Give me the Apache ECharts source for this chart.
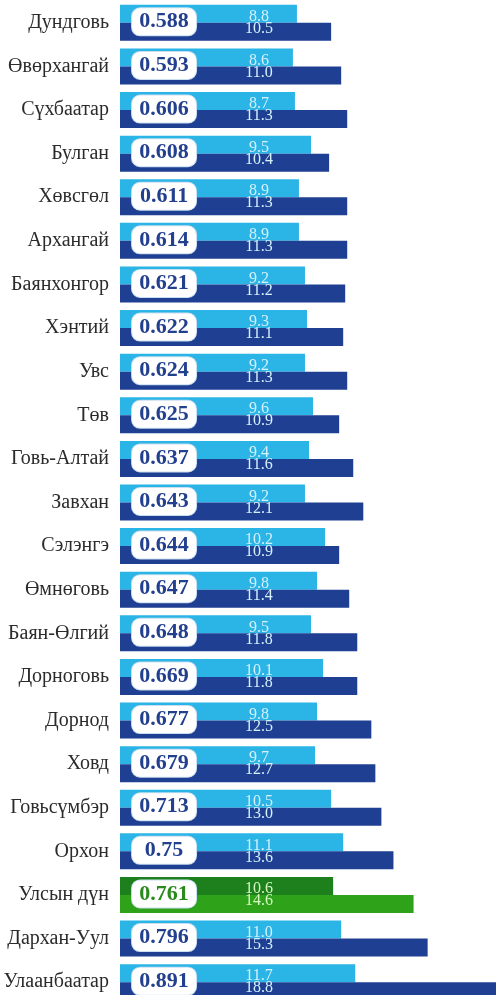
<!DOCTYPE html>
<html>
<head>
    <meta charset="utf-8"/>
    <script src="https://cdn.jsdelivr.net/npm/echarts@6/dist/echarts.min.js"></script>
    <style>
        html, body { margin: 0; padding: 0; background: #fff; }
    </style>
</head>
<body>
<div id="main" style="width: 496px;height:995px;"></div>
<script type="text/javascript">
    // aimags
    var categories = ['Дундговь', 'Өвөрхангай', 'Сүхбаатар', 'Булган', 'Хөвсгөл', 'Архангай', 'Баянхонгор',
        'Хэнтий', 'Увс', 'Төв', 'Говь-Алтай', 'Завхан', 'Сэлэнгэ', 'Өмнөговь', 'Баян-Өлгий', 'Дорноговь',
        'Дорнод', 'Ховд', 'Говьсүмбэр', 'Орхон', 'Улсын дүн', 'Дархан-Уул', 'Улаанбаатар'];
    // index in the white box
    var indexValues = [0.588, 0.593, 0.606, 0.608, 0.611, 0.614, 0.621, 0.622, 0.624, 0.625, 0.637, 0.643,
        0.644, 0.647, 0.648, 0.669, 0.677, 0.679, 0.713, 0.75, 0.761, 0.796, 0.891];
    // upper (light) bar
    var topValues = [8.8, 8.6, 8.7, 9.5, 8.9, 8.9, 9.2, 9.3, 9.2, 9.6, 9.4, 9.2, 10.2, 9.8, 9.5, 10.1,
        9.8, 9.7, 10.5, 11.1, 10.6, 11.0, 11.7];
    // lower (dark) bar
    var bottomValues = [10.5, 11.0, 11.3, 10.4, 11.3, 11.3, 11.2, 11.1, 11.3, 10.9, 11.6, 12.1, 10.9, 11.4,
        11.8, 11.8, 12.5, 12.7, 13.0, 13.6, 14.6, 15.3, 18.8];
    var nationalIndex = 20;

    var myChart = echarts.init(document.getElementById('main'));

    function barData(values, greenColor) {
        return values.map(function (v, i) {
            return i === nationalIndex ? {value: v, itemStyle: {color: greenColor}, label: {color: '#d4f7c2'}} : v;
        });
    }

    var option = {
        animation: false,
        grid: {left: 120, right: 0, top: 1, height: 1003, outerBoundsMode: 'none'},
        xAxis: {
            type: 'value', min: 0, max: 18.7, show: false
        },
        yAxis: {
            type: 'category',
            inverse: true,
            data: categories,
            axisLine: {show: false},
            axisTick: {show: false},
            axisLabel: {
                margin: 11,
                fontFamily: 'Liberation Serif',
                fontSize: 20,
                color: '#2b2b2b'
            }
        },
        series: [
            {
                type: 'bar',
                data: barData(topValues, '#1d801d'),
                barWidth: 18,
                barGap: 0,
                itemStyle: {color: '#2bb4e6'},
                label: {
                    show: true,
                    position: [139, 19],
                    align: 'center',
                    verticalAlign: 'bottom',
                    fontFamily: 'Liberation Serif',
                    fontSize: 16,
                    lineHeight: 14,
                    color: '#d4f1fc',
                    formatter: function (p) { return p.value.toFixed(1); }
                },
                z: 2
            },
            {
                type: 'bar',
                data: barData(bottomValues, '#2ea31a'),
                barWidth: 18,
                itemStyle: {color: '#1f3f93'},
                label: {
                    show: true,
                    position: [139, -1],
                    align: 'center',
                    verticalAlign: 'top',
                    fontFamily: 'Liberation Serif',
                    fontSize: 16,
                    lineHeight: 14,
                    color: '#d4f1fc',
                    formatter: function (p) { return p.value.toFixed(1); }
                },
                z: 2
            },
            {
                type: 'scatter',
                data: categories.map(function (c) { return [2.19, c]; }),
                symbolSize: 0,
                itemStyle: {opacity: 1},
                label: {
                    show: true,
                    position: 'inside',
                    offset: [0, -1],
                    width: 64,
                    height: 27,
                    lineHeight: 27,
                    align: 'center',
                    verticalAlign: 'middle',
                    backgroundColor: '#ffffff',
                    borderColor: '#c9def0',
                    borderWidth: 1,
                    borderRadius: 8,
                    fontFamily: 'Liberation Serif',
                    fontWeight: 'bold',
                    fontSize: 22,
                    color: '#23408f',
                    formatter: function (p) {
                        return String(indexValues[p.dataIndex]);
                    }
                },
                z: 5
            }
        ]
    };
    // national total box text in green
    option.series[2].data[nationalIndex] = {
        value: [2.19, categories[nationalIndex]],
        label: {color: '#2a8a1c'}
    };

    myChart.setOption(option);
</script>
</body>
</html>
